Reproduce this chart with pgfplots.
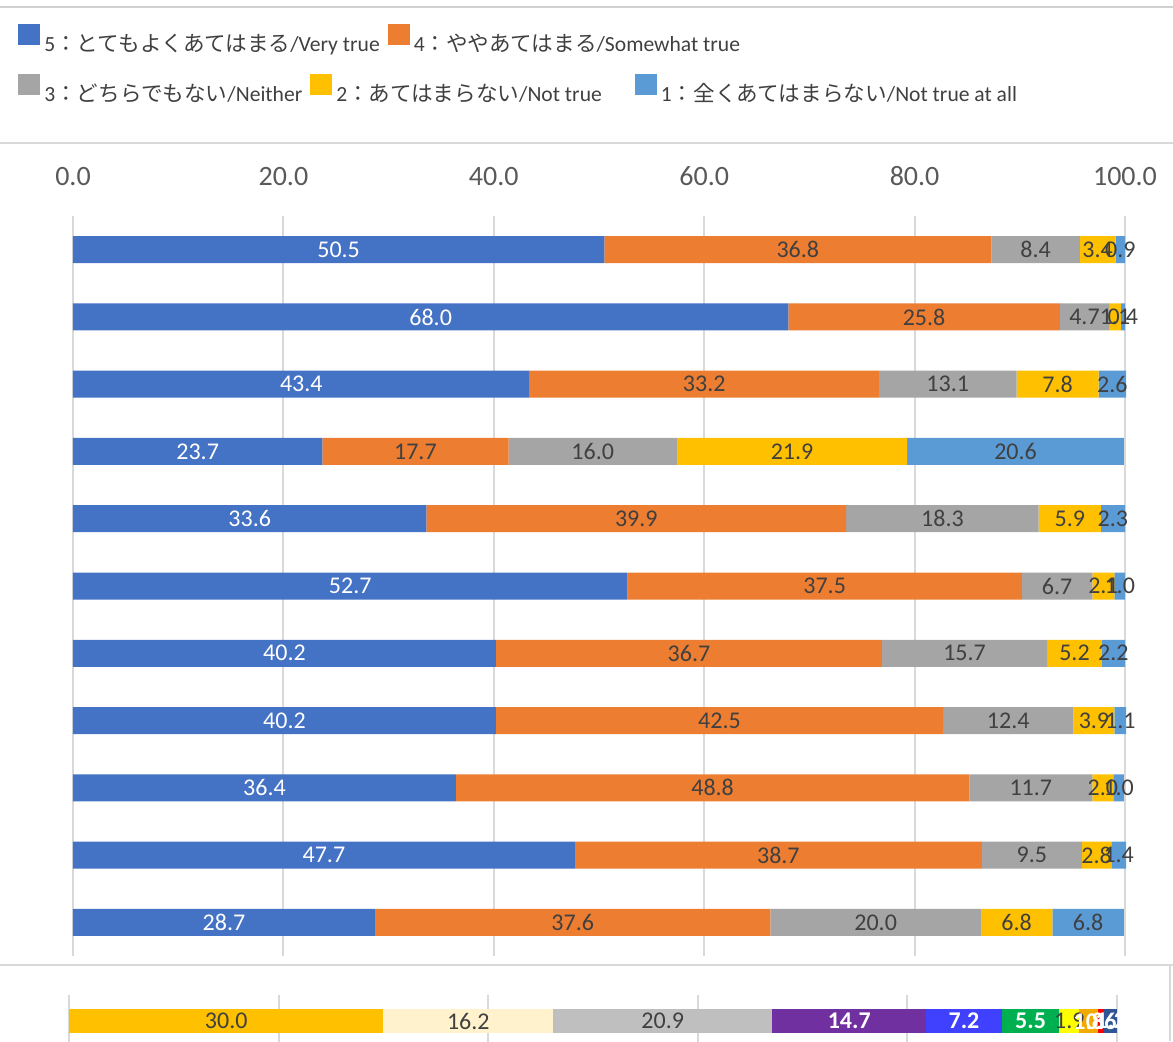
\documentclass[border=0pt]{standalone}
\usepackage{fontspec}
\setmainfont{Carlito}
\newfontfamily\jp{Noto Sans CJK JP}
\usepackage{pgfplots}
\pgfplotsset{compat=1.18}
\usepackage{pgfplotstable}

% Excel palette
\definecolor{c5}{HTML}{4472C4}
\definecolor{c4}{HTML}{ED7D31}
\definecolor{c3}{HTML}{A5A5A5}
\definecolor{c2}{HTML}{FFC000}
\definecolor{c1}{HTML}{5B9BD5}
\definecolor{b1}{HTML}{FFC000}
\definecolor{b2}{HTML}{FFF2CC}
\definecolor{b3}{HTML}{BFBFBF}
\definecolor{b4}{HTML}{7030A0}
\definecolor{b5}{HTML}{4040FF}
\definecolor{b6}{HTML}{00B050}
\definecolor{b7}{HTML}{FFFF00}
\definecolor{b8}{HTML}{F2A900}
\definecolor{b9}{HTML}{FF0000}
\definecolor{b10}{HTML}{2F5597}
\definecolor{gridgray}{HTML}{D9D9D9}
\definecolor{sepgray}{HTML}{D0D0D0}
\definecolor{tickgray}{HTML}{595959}
\definecolor{labgray}{HTML}{404040}

% rows from top (pos 11) to bottom (pos 1)
\pgfplotstableread{
pos v5   v4   v3   v2   v1
11  50.5 36.8 8.4  3.4  0.9
10  68.0 25.8 4.7  1.1  0.4
9   43.4 33.2 13.1 7.8  2.6
8   23.7 17.7 16.0 21.9 20.6
7   33.6 39.9 18.3 5.9  2.3
6   52.7 37.5 6.7  2.1  1.0
5   40.2 36.7 15.7 5.2  2.2
4   40.2 42.5 12.4 3.9  1.1
3   36.4 48.8 11.7 2.0  1.0
2   47.7 38.7 9.5  2.8  1.4
1   28.7 37.6 20.0 6.8  6.8
}\maindata

\pgfplotstableread{
pos s1   s2   s3   s4   s5  s6  s7  s8  s9  s10
1   30.0 16.2 20.9 14.7 7.2 5.5 1.9 1.8 0.6 1.2
}\bottomdata

\pgfplotsset{
  leg/.style={
    legend cell align=left,
    legend style={anchor=north west, draw=none, fill=none, inner sep=0pt,
      font=\fontsize{10.8}{13}\selectfont, text=labgray,
      nodes={inner sep=0pt},
      /tikz/every odd column/.style={column sep=2pt}},
    legend image code/.code={\fill[##1] (0pt,-0.5pt) rectangle (11pt,10pt);},
  },
  base/.style={scale only axis, clip=false, xmin=0, xmax=100,
    /pgf/number format/assume math mode=true,
    major tick length=0pt, tick style={draw=none}, axis line style={draw=none}},
  % labels sit at the middle of each stacked segment
  lab/.style={draw=none, mark=none, point meta=\thisrow{#1},
    nodes near coords={\pgfmathprintnumber[fixed,fixed zerofill,precision=1]{\pgfplotspointmeta}},
    every node near coord/.append style={anchor=center,
      font=\fontsize{12}{14}\selectfont, text=labgray}},
  wlab/.style={every node near coord/.append style={text=white}},
  blab/.style={every node near coord/.append style={text=white,
      font=\fontsize{12}{14}\selectfont\bfseries}},
}

\newcommand\seg[2]{\addplot[fill=#2, draw=none] table[x=#1,y=pos]}

\begin{document}
\begin{tikzpicture}
\useasboundingbox (0,0) rectangle (586.5pt,-520.5pt);
\draw[line width=1pt, sepgray] (0,-3.5pt) -- (586.5pt,-3.5pt);
\draw[line width=1pt, gridgray] (0,-71.5pt) -- (586.5pt,-71.5pt);
\draw[line width=1pt, gridgray] (0,-482.5pt) -- (586.5pt,-482.5pt);
\draw[line width=1pt, gridgray] (585pt,-482.5pt) -- (585pt,-520.5pt);

% main chart: bars
\begin{axis}[base,
  at={(36.5pt,-478pt)}, anchor=south west, width=526pt, height=370pt,
  xbar stacked, bar width=13.5pt, ymin=0.5, ymax=11.5,
  xtick={0,20,40,60,80,100}, ytick=\empty,
  xticklabel pos=upper,
  xticklabel style={font=\fontsize{14}{16}\selectfont, text=tickgray,
    anchor=south, inner sep=0pt, yshift=15pt,
    /pgf/number format/fixed, /pgf/number format/fixed zerofill,
    /pgf/number format/precision=1},
  xmajorgrids, grid style={line width=1pt, gridgray},
  leg, legend columns=2,
  legend style={at={(-0.0523,1.2595)}, /tikz/column 2/.style={column sep=4pt}},
]
\seg{v5}{c5}{\maindata};
\addlegendentry{5{\jp ：とてもよくあてはまる}/Very true}
\seg{v4}{c4}{\maindata};
\addlegendentry{4{\jp ：ややあてはまる}/Somewhat true}
\seg{v3}{c3}{\maindata};
\seg{v2}{c2}{\maindata};
\seg{v1}{c1}{\maindata};
\end{axis}

% main chart: segment labels
\begin{axis}[base, hide axis,
  at={(36.5pt,-478pt)}, anchor=south west, width=526pt, height=370pt,
  ymin=0.5, ymax=11.5]
\addplot[lab=v5, wlab] table[x expr=\thisrow{v5}/2, y=pos]{\maindata};
\addplot[lab=v4] table[x expr=\thisrow{v5}+\thisrow{v4}/2, y=pos]{\maindata};
\addplot[lab=v3] table[x expr=\thisrow{v5}+\thisrow{v4}+\thisrow{v3}/2, y=pos]{\maindata};
\addplot[lab=v2] table[x expr=\thisrow{v5}+\thisrow{v4}+\thisrow{v3}+\thisrow{v2}/2, y=pos]{\maindata};
\addplot[lab=v1] table[x expr=\thisrow{v5}+\thisrow{v4}+\thisrow{v3}+\thisrow{v2}+\thisrow{v1}/2, y=pos]{\maindata};
\end{axis}

% second legend row
\begin{axis}[
  at={(36.5pt,-478pt)}, anchor=south west,
  scale only axis, width=526pt, height=370pt,
  hide axis, xmin=0, xmax=1, ymin=0, ymax=1,
  leg, legend columns=3,
  legend style={at={(-0.0523,1.1919)},
    /tikz/column 2/.style={column sep=4pt},
    /tikz/column 4/.style={column sep=16.5pt}},
]
\addlegendimage{fill=c3, draw=none}
\addlegendentry{3{\jp ：どちらでもない}/Neither}
\addlegendimage{fill=c2, draw=none}
\addlegendentry{2{\jp ：あてはまらない}/Not true}
\addlegendimage{fill=c1, draw=none}
\addlegendentry{1{\jp ：全くあてはまらない}/Not true at all}
\end{axis}

% cut-off chart below: bar
\begin{axis}[base,
  at={(34.5pt,-523.5pt)}, anchor=south west, width=524pt, height=26pt,
  xbar stacked, bar width=12pt, ymin=0.5, ymax=1.5,
  xtick={0,20,40,60,80,100}, xticklabels={}, ytick=\empty,
  xmajorgrids, grid style={line width=1pt, gridgray},
]
\seg{s1}{b1}{\bottomdata};
\seg{s2}{b2}{\bottomdata};
\seg{s3}{b3}{\bottomdata};
\seg{s4}{b4}{\bottomdata};
\seg{s5}{b5}{\bottomdata};
\seg{s6}{b6}{\bottomdata};
\seg{s7}{b7}{\bottomdata};
\seg{s8}{b8}{\bottomdata};
\seg{s9}{b9}{\bottomdata};
\seg{s10}{b10}{\bottomdata};
\end{axis}

% cut-off chart below: labels
\begin{axis}[base, hide axis,
  at={(34.5pt,-523.5pt)}, anchor=south west, width=524pt, height=26pt,
  ymin=0.5, ymax=1.5]
\addplot[lab=s1] table[x expr=\thisrow{s1}/2, y=pos]{\bottomdata};
\addplot[lab=s2] table[x expr=\thisrow{s1}+\thisrow{s2}/2, y=pos]{\bottomdata};
\addplot[lab=s3] table[x expr=\thisrow{s1}+\thisrow{s2}+\thisrow{s3}/2, y=pos]{\bottomdata};
\addplot[lab=s4, blab] table[x expr=\thisrow{s1}+\thisrow{s2}+\thisrow{s3}+\thisrow{s4}/2, y=pos]{\bottomdata};
\addplot[lab=s5, blab] table[x expr=\thisrow{s1}+\thisrow{s2}+\thisrow{s3}+\thisrow{s4}+\thisrow{s5}/2, y=pos]{\bottomdata};
\addplot[lab=s6, blab] table[x expr=\thisrow{s1}+\thisrow{s2}+\thisrow{s3}+\thisrow{s4}+\thisrow{s5}+\thisrow{s6}/2, y=pos]{\bottomdata};
\addplot[lab=s7] table[x expr=\thisrow{s1}+\thisrow{s2}+\thisrow{s3}+\thisrow{s4}+\thisrow{s5}+\thisrow{s6}+\thisrow{s7}/2, y=pos]{\bottomdata};
\addplot[lab=s8, blab] table[x expr=\thisrow{s1}+\thisrow{s2}+\thisrow{s3}+\thisrow{s4}+\thisrow{s5}+\thisrow{s6}+\thisrow{s7}+\thisrow{s8}/2, y=pos]{\bottomdata};
\addplot[lab=s9, blab] table[x expr=\thisrow{s1}+\thisrow{s2}+\thisrow{s3}+\thisrow{s4}+\thisrow{s5}+\thisrow{s6}+\thisrow{s7}+\thisrow{s8}+\thisrow{s9}/2, y=pos]{\bottomdata};
\addplot[lab=s10, blab] table[x expr=\thisrow{s1}+\thisrow{s2}+\thisrow{s3}+\thisrow{s4}+\thisrow{s5}+\thisrow{s6}+\thisrow{s7}+\thisrow{s8}+\thisrow{s9}+\thisrow{s10}/2, y=pos]{\bottomdata};
\end{axis}
\end{tikzpicture}
\end{document}
